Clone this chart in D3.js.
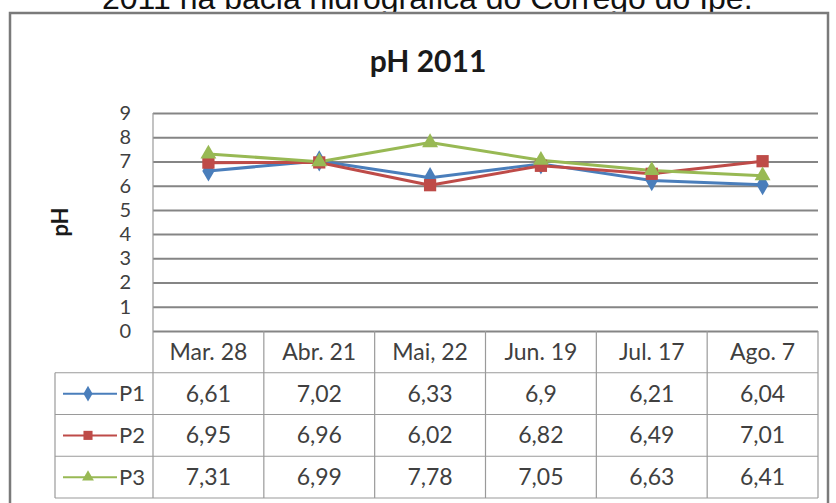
<!DOCTYPE html>
<html>
<head>
<meta charset="utf-8">
<script src="https://cdn.jsdelivr.net/npm/d3@7"></script>
<style>
  html, body { margin: 0; padding: 0; background: #fff; }
  svg { display: block; }
</style>
</head>
<body>
<svg id="chart" width="836" height="503"></svg>
<script>
const caption = "2011 na bacia hidrográfica do Córrego do Ipê.";
const chartTitle = "pH 2011";
const yAxisTitle = "pH";
const categories = ["Mar. 28", "Abr. 21", "Mai, 22", "Jun. 19", "Jul. 17", "Ago. 7"];
const seriesNames = ["P1", "P2", "P3"];
const p1Values = [6.61, 7.02, 6.33, 6.9, 6.21, 6.04];
const p2Values = [6.95, 6.96, 6.02, 6.82, 6.49, 7.01];
const p3Values = [7.31, 6.99, 7.78, 7.05, 6.63, 6.41];
const yTicks = [0, 1, 2, 3, 4, 5, 6, 7, 8, 9];

const series = [
  { name: seriesNames[0], values: p1Values, color: "#4A7EBB", marker: d3.symbolDiamond, size: 130 },
  { name: seriesNames[1], values: p2Values, color: "#BE4B48", marker: d3.symbolSquare, size: 150 },
  { name: seriesNames[2], values: p3Values, color: "#98B954", marker: d3.symbolTriangle, size: 110 }
];

const svg = d3.select("#chart");
const FONT = "Lato, 'Open Sans', sans-serif";

const plotLeft = 153, plotRight = 818, plotTop = 113, plotBottom = 331;
const tableBottom = 498, tableLeft = 55;

const x = d3.scaleBand().domain(categories).range([plotLeft, plotRight]);
const y = d3.scaleLinear().domain([0, 9]).range([plotBottom, plotTop]);
const rowY = d3.scaleBand().domain(["header"].concat(seriesNames)).range([plotBottom, tableBottom]);
const fmt = d3.formatLocale({ decimal: ",", thousands: ".", grouping: [3], currency: ["", ""] }).format("");

// caption above frame
svg.append("text")
  .attr("x", 102).attr("y", 9)
  .attr("font-family", "'Liberation Sans', Arial, sans-serif")
  .attr("font-size", 32)
  .attr("fill", "#111")
  .text(caption);

// frame
svg.append("rect")
  .attr("x", 10).attr("y", 13)
  .attr("width", 818).attr("height", 520)
  .attr("fill", "#fff")
  .attr("stroke", "#7a7a7a")
  .attr("stroke-width", 2.5);

// chart title
svg.append("text")
  .attr("x", 428).attr("y", 72)
  .attr("text-anchor", "middle")
  .attr("font-family", FONT)
  .attr("font-weight", "bold")
  .attr("font-size", 30)
  .attr("fill", "#1a1a1a")
  .text(chartTitle);

// y axis title
svg.append("text")
  .attr("transform", "translate(68,222) rotate(-90)")
  .attr("text-anchor", "middle")
  .attr("font-family", FONT)
  .attr("font-weight", "bold")
  .attr("font-size", 22)
  .attr("fill", "#1a1a1a")
  .text(yAxisTitle);

// gridlines + tick labels
const yAxis = d3.axisLeft(y)
  .tickValues(yTicks)
  .tickFormat(d3.format("d"))
  .tickSizeInner(-(plotRight - plotLeft))
  .tickSizeOuter(0)
  .tickPadding(22);
const gy = svg.append("g").attr("transform", `translate(${plotLeft},0)`).call(yAxis);
gy.select(".domain").remove();
gy.selectAll(".tick line").attr("stroke", "#858585").attr("stroke-width", 2);
gy.selectAll(".tick text")
  .attr("font-family", FONT)
  .attr("font-size", 20)
  .attr("fill", "#404040");

// table lines
const tbl = svg.append("g").attr("stroke", "#9a9a9a").attr("stroke-width", 1.2).attr("fill", "none");
tbl.append("line").attr("x1", plotLeft).attr("x2", plotLeft).attr("y1", plotTop).attr("y2", tableBottom);
categories.forEach((c, i) => {
  if (i > 0) tbl.append("line").attr("x1", x(c)).attr("x2", x(c)).attr("y1", plotBottom).attr("y2", tableBottom);
});
tbl.append("line").attr("x1", plotRight).attr("x2", plotRight).attr("y1", plotBottom).attr("y2", tableBottom);
seriesNames.forEach(n => {
  tbl.append("line").attr("x1", tableLeft).attr("x2", plotRight).attr("y1", rowY(n)).attr("y2", rowY(n));
});
tbl.append("line").attr("x1", tableLeft).attr("x2", plotRight).attr("y1", tableBottom).attr("y2", tableBottom);
tbl.append("line").attr("x1", tableLeft).attr("x2", tableLeft).attr("y1", rowY(seriesNames[0])).attr("y2", tableBottom);

// header labels
svg.append("g").selectAll("text").data(categories).join("text")
  .attr("x", d => x(d) + x.bandwidth() / 2)
  .attr("y", rowY("header") + rowY.bandwidth() / 2)
  .attr("dy", "0.35em")
  .attr("text-anchor", "middle")
  .attr("font-family", FONT)
  .attr("font-size", 23)
  .attr("fill", "#404040")
  .text(d => d);

// data rows
series.forEach(s => {
  const cy = rowY(s.name) + rowY.bandwidth() / 2;
  const g = svg.append("g");
  g.selectAll("text.val").data(s.values).join("text")
    .attr("class", "val")
    .attr("x", (d, i) => x(categories[i]) + x.bandwidth() / 2)
    .attr("y", cy)
    .attr("dy", "0.35em")
    .attr("text-anchor", "middle")
    .attr("font-family", FONT)
    .attr("font-size", 23)
    .attr("fill", "#404040")
    .text(d => fmt(d));
  g.append("line").attr("x1", 63).attr("x2", 117).attr("y1", cy).attr("y2", cy)
    .attr("stroke", s.color).attr("stroke-width", 2);
  g.append("path").attr("d", d3.symbol(s.marker, s.size * 0.55)())
    .attr("transform", `translate(88,${cy})`).attr("fill", s.color);
  g.append("text").attr("x", 119).attr("y", cy).attr("dy", "0.35em")
    .attr("font-family", FONT).attr("font-size", 22).attr("fill", "#404040")
    .text(s.name);
});

// series lines
const line = d3.line()
  .x((d, i) => x(categories[i]) + x.bandwidth() / 2)
  .y(d => y(d));
series.forEach(s => {
  svg.append("path").datum(s.values)
    .attr("d", line)
    .attr("fill", "none")
    .attr("stroke", s.color)
    .attr("stroke-width", 3)
    .attr("stroke-linejoin", "round");
});
series.forEach(s => {
  svg.append("g").selectAll("path").data(s.values).join("path")
    .attr("d", d3.symbol(s.marker, s.size)())
    .attr("transform", (d, i) => `translate(${x(categories[i]) + x.bandwidth() / 2},${y(d)})`)
    .attr("fill", s.color);
});
</script>
</body>
</html>
